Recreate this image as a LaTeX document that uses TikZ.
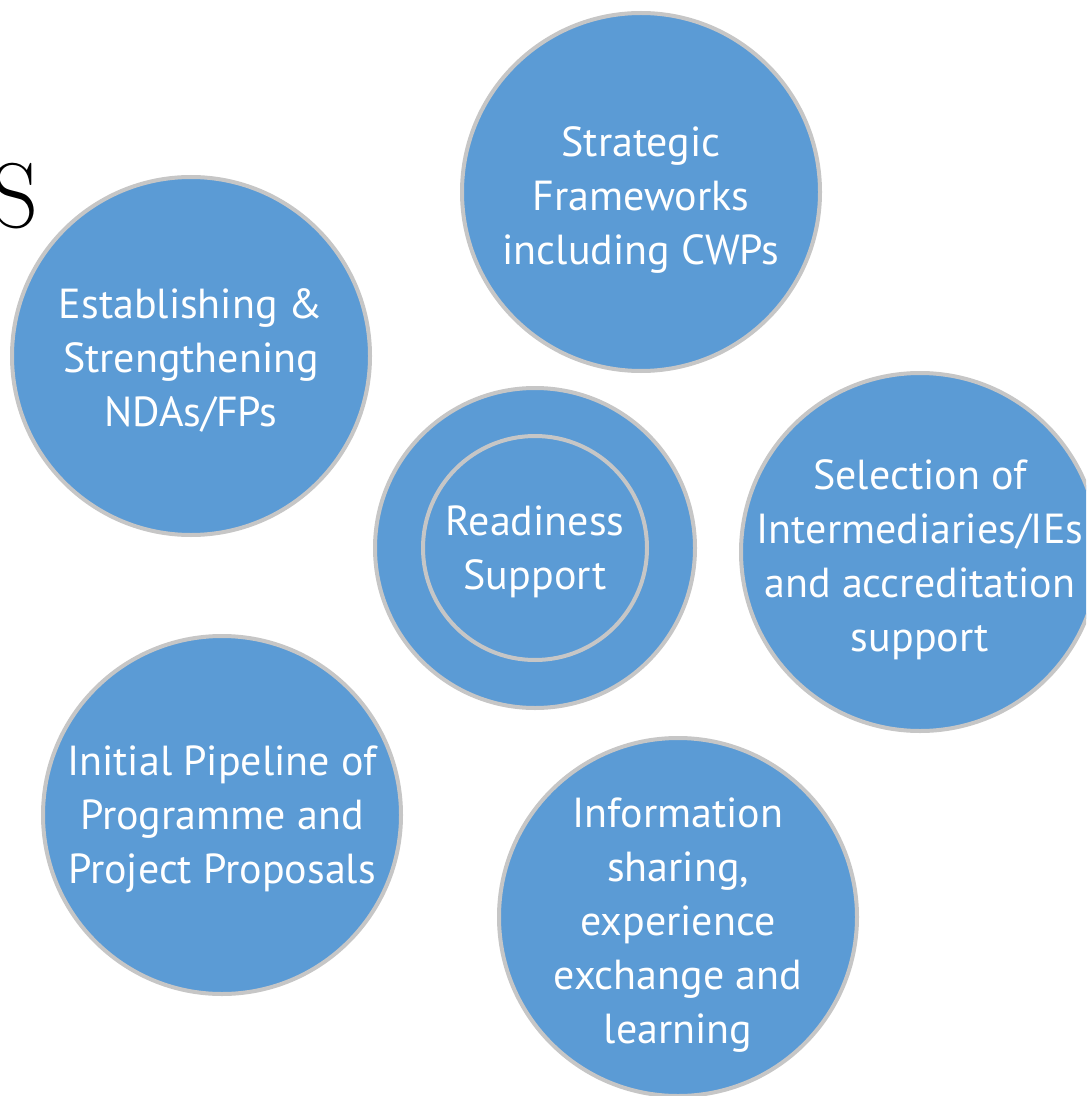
\documentclass[tikz,border=0pt]{standalone}
\usepackage{fontspec}
\setsansfont{PT Sans}
\usetikzlibrary{positioning}
\definecolor{gcfblue}{HTML}{5B9BD5}
\definecolor{gcfgray}{HTML}{C6C6C6}

\begin{document}
\begin{tikzpicture}[
      x=0.5pt, y=-0.5pt,
      every node/.style={font=\sffamily\fontsize{21}{27}\selectfont},
      area/.style={circle, draw=gcfgray, line width=2pt, fill=gcfblue,
                   minimum size=179pt, inner sep=0pt},
      core/.style={circle, draw=gcfgray, line width=2pt,
                   minimum size=112pt, inner sep=0pt},
      txt/.style={align=center, text=white, inner sep=0pt},
    ]
    \clip (0,0) rectangle (1086,1096);

    % Heading letter
    \node[anchor=base east, inner sep=0pt, font=\rmfamily\fontsize{46}{50}\selectfont]
      (letterS) at (39,228) {S};

    % Areas of readiness support
    \node[area] (strat)    at (641,192) {};
    \node[area] (estab)    at (191,356) {};
    \node[area] (select)   at (920,552) {};
    \node[area] (pipeline) at (222,815) {};
    \node[area] (info)     at (678,917) {};
    \node[txt] (stratT)    at ([yshift=-4pt]strat)    {Strategic\\Frameworks\\including CWPs};
    \node[txt] (estabT)    at ([yshift=-2pt]estab)    {Establishing \&\\Strengthening\\NDAs/FPs};
    \node[txt] (selectT)   at ([yshift=-4pt]select)   {Selection of\\Intermediaries/IEs\\and accreditation\\support};
    \node[txt] (pipelineT) at ([yshift=-2pt]pipeline) {Initial Pipeline of\\Programme and\\Project Proposals};
    \node[txt] (infoT)     at ([yshift=-4pt]info)     {Information\\sharing,\\experience\\exchange and\\learning};

    % Centre
    \node[area, minimum size=160pt] (ready) at (535,548) {};
    \node[core] (readyin) at (ready.center) {};
    \node[txt] (readyT) at ([yshift=-2pt]ready) {Readiness\\Support};
  \end{tikzpicture}
\end{document}
